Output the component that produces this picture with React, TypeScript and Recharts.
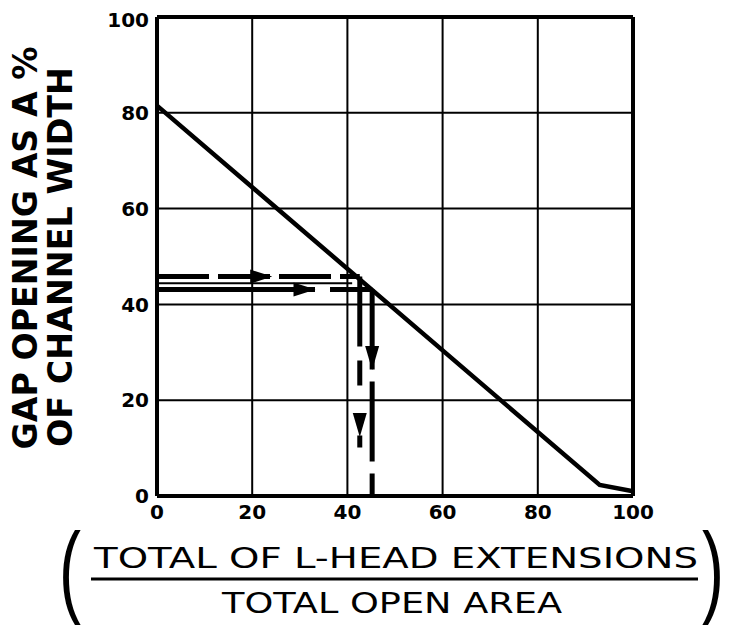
import {
  CartesianGrid,
  ComposedChart,
  Line,
  ReferenceLine,
  Scatter,
  XAxis,
  YAxis,
} from 'recharts'

// axis ticks
const xTicks = [0, 20, 40, 60, 80, 100]
const yTicks = [0, 20, 40, 60, 80, 100]

// main design curve: gap opening vs. extension ratio
const curve = [
  { x: 0, y: 81.5 },
  { x: 93, y: 2.3 },
  { x: 100, y: 1 },
]

// example read-off lines (two cases)
const readAHoriz = [
  { x: 0, y: 45.8 },
  { x: 42.6, y: 45.8 },
]
const readAVert = [
  { x: 42.6, y: 45.8 },
  { x: 42.6, y: 0 },
]
const readBHoriz = [
  { x: 0, y: 43.1 },
  { x: 45.2, y: 43.1 },
]
const readBVert = [
  { x: 45.2, y: 43.1 },
  { x: 45.2, y: 0 },
]
const thinGuide = [
  { x: 0, y: 44.4 },
  { x: 41, y: 44.4 },
]

// arrow heads on the read-off lines (tip positions)
const arrows = [
  { x: 24.2, y: 45.8, dir: 'right' },
  { x: 33.3, y: 43.1, dir: 'right' },
  { x: 42.6, y: 12.3, dir: 'down' },
  { x: 45.2, y: 26.3, dir: 'down' },
]

const W = 726
const H = 621
const tickFont = { fontFamily: 'DejaVu Sans', fontWeight: 700, fontSize: 20, fill: '#000' }

function Arrow(props: any) {
  const { cx, cy, payload } = props
  if (payload.dir === 'right') {
    return <polygon points={`${cx},${cy} ${cx - 22},${cy - 7} ${cx - 22},${cy + 7}`} fill="#000" />
  }
  return <polygon points={`${cx},${cy} ${cx - 7},${cy - 24} ${cx + 7},${cy - 24}`} fill="#000" />
}

export default function App() {
  return (
    <div style={{ position: 'relative', width: W, height: H, background: '#fff' }}>
      <ComposedChart
        width={W}
        height={H}
        margin={{ top: 9, right: 101, bottom: 103, left: 89 }}
      >
        <CartesianGrid stroke="#000" strokeWidth={2} />
        <XAxis
          dataKey="x"
          type="number"
          domain={[0, 100]}
          ticks={xTicks}
          height={30}
          tickSize={0}
          tickMargin={9}
          tick={tickFont}
          axisLine={{ stroke: '#000', strokeWidth: 4 }}
        />
        <YAxis
          dataKey="y"
          type="number"
          domain={[0, 100]}
          ticks={yTicks}
          width={60}
          tickSize={0}
          tickMargin={8}
          tick={tickFont}
          axisLine={{ stroke: '#000', strokeWidth: 4 }}
        />
        <ReferenceLine y={100} stroke="#000" strokeWidth={4} />
        <ReferenceLine x={100} stroke="#000" strokeWidth={4} />
        <Line data={thinGuide} dataKey="y" stroke="#000" strokeWidth={2} dot={false} activeDot={false} isAnimationActive={false} />
        <Line data={readAHoriz} dataKey="y" stroke="#000" strokeWidth={5} strokeDasharray="52 9" dot={false} activeDot={false} isAnimationActive={false} />
        <Line data={readAVert} dataKey="y" stroke="#000" strokeWidth={5} strokeDasharray="70 14 25 50 12" dot={false} activeDot={false} isAnimationActive={false} />
        <Line data={readBHoriz} dataKey="y" stroke="#000" strokeWidth={5} strokeDasharray="158 15" dot={false} activeDot={false} isAnimationActive={false} />
        <Line data={readBVert} dataKey="y" stroke="#000" strokeWidth={5} strokeDasharray="80 12" dot={false} activeDot={false} isAnimationActive={false} />
        <Line data={curve} dataKey="y" stroke="#000" strokeWidth={4.5} dot={false} activeDot={false} isAnimationActive={false} />
        <Scatter data={arrows} dataKey="y" shape={Arrow} isAnimationActive={false} />
      </ComposedChart>
      <svg
        width={W}
        height={H}
        style={{ position: 'absolute', left: 0, top: 0, pointerEvents: 'none', overflow: 'visible' }}
      >
        <g fontFamily="DejaVu Sans" fontWeight={700} fill="#000">
          <text x={29} y={240} fontSize={34} textAnchor="middle" textLength={403} lengthAdjust="spacingAndGlyphs" transform="rotate(-90 29 240)">
            GAP OPENING AS A %
          </text>
          <text x={64} y={249} fontSize={34} textAnchor="middle" textLength={380} lengthAdjust="spacingAndGlyphs" transform="rotate(-90 64 249)">
            OF CHANNEL WIDTH
          </text>
        </g>
        <g fontFamily="DejaVu Sans" fill="#000">
          <text x={86} y={560} fontSize={28} textLength={604} lengthAdjust="spacingAndGlyphs">
            TOTAL OF L-HEAD EXTENSIONS
          </text>
          <line x1={83} y1={571} x2={690} y2={571} stroke="#000" strokeWidth={3} />
          <text x={214} y={605} fontSize={28} textLength={340} lengthAdjust="spacingAndGlyphs">
            TOTAL OPEN AREA
          </text>
        </g>
        <g fontFamily="Liberation Sans" fill="#000">
          <text x={51} y={596} fontSize={44} transform="translate(51 596) scale(1.5 2.3) translate(-51 -596)">
            (
          </text>
          <text x={694} y={596} fontSize={44} transform="translate(694 596) scale(1.5 2.3) translate(-694 -596)">
            )
          </text>
        </g>
      </svg>
    </div>
  )
}
